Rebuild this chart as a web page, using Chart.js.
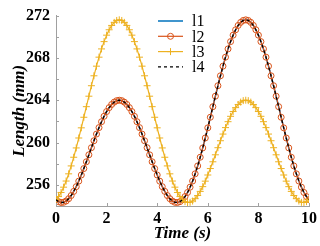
<!DOCTYPE html>
<html>
<head>
<meta charset="utf-8">
<script src="https://cdn.jsdelivr.net/npm/chart.js@4/dist/chart.umd.min.js"></script>
<style>
    body { margin: 0; background: #fff; }
</style>
</head>
<body>
<canvas id="chart" width="320" height="246"></canvas>
<script>
// sample times (s)
const time = [
    0, 0.1, 0.2, 0.3, 0.4, 0.5, 0.6, 0.7, 0.8, 0.9,
    1, 1.1, 1.2, 1.3, 1.4, 1.5, 1.6, 1.7, 1.8, 1.9,
    2, 2.1, 2.2, 2.3, 2.4, 2.5, 2.6, 2.7, 2.8, 2.9,
    3, 3.1, 3.2, 3.3, 3.4, 3.5, 3.6, 3.7, 3.8, 3.9,
    4, 4.1, 4.2, 4.3, 4.4, 4.5, 4.6, 4.7, 4.8, 4.9,
    5, 5.1, 5.2, 5.3, 5.4, 5.5, 5.6, 5.7, 5.8, 5.9,
    6, 6.1, 6.2, 6.3, 6.4, 6.5, 6.6, 6.7, 6.8, 6.9,
    7, 7.1, 7.2, 7.3, 7.4, 7.5, 7.6, 7.7, 7.8, 7.9,
    8, 8.1, 8.2, 8.3, 8.4, 8.5, 8.6, 8.7, 8.8, 8.9,
    9, 9.1, 9.2, 9.3, 9.4, 9.5, 9.6, 9.7, 9.8, 9.9,
    10
];

// lengths (mm); l1, l2 and l4 lie on top of each other
const l1 = [
    254.60, 254.41, 254.33, 254.35, 254.47, 254.69, 254.99, 255.38, 255.83, 256.35,
    256.93, 257.54, 258.18, 258.84, 259.51, 260.17, 260.80, 261.41, 261.97, 262.48,
    262.93, 263.30, 263.60, 263.82, 263.96, 264.00, 263.96, 263.82, 263.60, 263.30,
    262.93, 262.48, 261.97, 261.41, 260.80, 260.17, 259.51, 258.84, 258.18, 257.54,
    256.93, 256.35, 255.83, 255.38, 254.99, 254.69, 254.47, 254.35, 254.33, 254.41,
    254.60, 254.89, 255.28, 255.78, 256.36, 257.04, 257.79, 258.61, 259.49, 260.43,
    261.39, 262.39, 263.39, 264.38, 265.37, 266.31, 267.22, 268.07, 268.85, 269.54,
    270.15, 270.66, 271.07, 271.36, 271.54, 271.60, 271.54, 271.36, 271.07, 270.66,
    270.15, 269.54, 268.85, 268.07, 267.22, 266.31, 265.37, 264.38, 263.39, 262.39,
    261.39, 260.43, 259.49, 258.61, 257.79, 257.04, 256.36, 255.78, 255.28, 254.89,
    254.60
];
const l2 = l1.slice();
const l4 = l1.slice();

const l3 = [
    254.60, 254.89, 255.28, 255.78, 256.36, 257.04, 257.79, 258.61, 259.49, 260.43,
    261.39, 262.39, 263.39, 264.38, 265.37, 266.31, 267.22, 268.07, 268.85, 269.54,
    270.15, 270.66, 271.07, 271.36, 271.54, 271.60, 271.54, 271.36, 271.07, 270.66,
    270.15, 269.54, 268.85, 268.07, 267.22, 266.31, 265.37, 264.38, 263.39, 262.39,
    261.39, 260.43, 259.49, 258.61, 257.79, 257.04, 256.36, 255.78, 255.28, 254.89,
    254.60, 254.41, 254.33, 254.35, 254.47, 254.69, 254.99, 255.38, 255.83, 256.35,
    256.93, 257.54, 258.18, 258.84, 259.51, 260.17, 260.80, 261.41, 261.97, 262.48,
    262.93, 263.30, 263.60, 263.82, 263.96, 264.00, 263.96, 263.82, 263.60, 263.30,
    262.93, 262.48, 261.97, 261.41, 260.80, 260.17, 259.51, 258.84, 258.18, 257.54,
    256.93, 256.35, 255.83, 255.38, 254.99, 254.69, 254.47, 254.35, 254.33, 254.41,
    254.60
];

const seriesNames = ["l1", "l2", "l3", "l4"];
const yTickLabels = [256, 260, 264, 268, 272];

const axisColor = "#a0a0a0";
const serif = "'Liberation Serif', 'Times New Roman', serif";

function points(values) {
    return time.map((t, i) => ({ x: t, y: values[i] }));
}

// MATLAB-style ticks pointing into the plot
const innerTicks = {
    id: "innerTicks",
    afterDraw(chart) {
        const { ctx, chartArea } = chart;
        const x = chart.scales.x;
        const y = chart.scales.y;
        ctx.save();
        ctx.strokeStyle = axisColor;
        ctx.lineWidth = 1;
        ctx.beginPath();
        x.ticks.forEach(t => {
            const px = Math.round(x.getPixelForValue(t.value)) + 0.5;
            ctx.moveTo(px, chartArea.bottom);
            ctx.lineTo(px, chartArea.bottom - 3);
        });
        y.ticks.forEach(t => {
            const py = Math.round(y.getPixelForValue(t.value)) + 0.5;
            ctx.moveTo(chartArea.left, py);
            ctx.lineTo(chartArea.left + 3, py);
        });
        ctx.stroke();
        ctx.restore();
    }
};

// legend inside the axes, line + marker + name
const innerLegend = {
    id: "innerLegend",
    afterDraw(chart) {
        const ctx = chart.ctx;
        const x0 = 158, x1 = 183, tx = 192;
        const rowTop = 21, rowStep = 15.3;
        ctx.save();
        chart.data.datasets.forEach((ds, i) => {
            const yy = rowTop + i * rowStep;
            ctx.strokeStyle = ds.borderColor;
            ctx.lineWidth = ds.borderWidth;
            ctx.setLineDash(ds.borderDash || []);
            ctx.beginPath();
            ctx.moveTo(x0, yy);
            ctx.lineTo(x1, yy);
            ctx.stroke();
            ctx.setLineDash([]);
            if (ds.pointRadius > 0) {
                ctx.fillStyle = "rgba(0,0,0,0)";
                ctx.strokeStyle = ds.borderColor;
                ctx.lineWidth = ds.pointBorderWidth;
                Chart.helpers.drawPoint(ctx, {
                    pointStyle: ds.pointStyle,
                    radius: ds.pointRadius,
                    borderWidth: ds.pointBorderWidth,
                    rotation: 0
                }, (x0 + x1) / 2, yy);
            }
            ctx.fillStyle = "#000";
            ctx.font = "16px " + serif;
            ctx.textAlign = "left";
            ctx.textBaseline = "middle";
            ctx.fillText(seriesNames[i], tx, yy + 1);
        });
        ctx.restore();
    }
};

new Chart(document.getElementById("chart"), {
    type: "line",
    data: {
        datasets: [
            {
                label: seriesNames[0],
                data: points(l1),
                borderColor: "#0072bd",
                borderWidth: 1.5,
                pointRadius: 0,
                order: 4
            },
            {
                label: seriesNames[1],
                data: points(l2),
                borderColor: "#d95319",
                borderWidth: 1.2,
                pointStyle: "circle",
                pointRadius: 3,
                pointBorderWidth: 1,
                pointBorderColor: "#d95319",
                pointBackgroundColor: "rgba(0,0,0,0)",
                order: 3
            },
            {
                label: seriesNames[2],
                data: points(l3),
                borderColor: "#edb120",
                borderWidth: 1.2,
                pointStyle: "cross",
                pointRadius: 3.5,
                pointBorderWidth: 1,
                pointBorderColor: "#edb120",
                order: 2
            },
            {
                label: seriesNames[3],
                data: points(l4),
                borderColor: "#000000",
                borderWidth: 1.3,
                borderDash: [3, 3],
                pointRadius: 0,
                order: 1
            }
        ]
    },
    options: {
        responsive: false,
        animation: false,
        layout: { padding: { top: 9, right: 10, left: 0, bottom: 0 } },
        plugins: {
            legend: { display: false },
            tooltip: { enabled: false }
        },
        scales: {
            x: {
                type: "linear",
                min: 0,
                max: 10,
                grid: { display: false, drawTicks: false },
                border: { color: axisColor, width: 1 },
                ticks: {
                    stepSize: 2,
                    padding: 3,
                    maxRotation: 0,
                    color: "#000",
                    font: { family: serif, size: 16, weight: "bold" }
                },
                title: {
                    display: true,
                    text: "Time (s)",
                    color: "#000",
                    padding: { top: 0, bottom: 2 },
                    font: { family: serif, size: 17, weight: "bold", style: "italic" }
                },
                afterFit: s => { s.height = 40; }
            },
            y: {
                min: 254,
                max: 272,
                grid: { display: false, drawTicks: false },
                border: { color: axisColor, width: 1 },
                ticks: {
                    stepSize: 2,
                    autoSkip: false,
                    padding: 6,
                    color: "#000",
                    font: { family: serif, size: 16, weight: "bold" },
                    callback: v => yTickLabels.includes(v) ? v : ""
                },
                title: {
                    display: true,
                    text: "Length (mm)",
                    color: "#000",
                    padding: { top: 9, bottom: 0 },
                    font: { family: serif, size: 17, weight: "bold", style: "italic" }
                },
                afterFit: s => { s.width = 56; }
            }
        }
    },
    plugins: [innerTicks, innerLegend]
});
</script>
</body>
</html>
